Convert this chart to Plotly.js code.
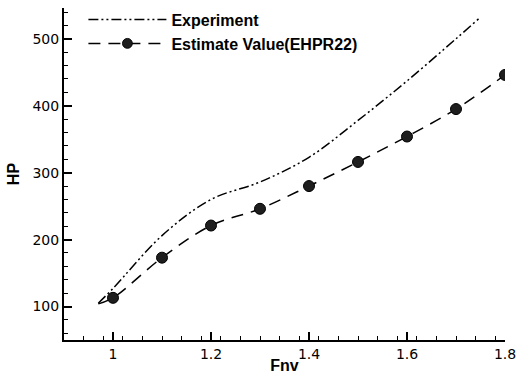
<!DOCTYPE html>
<html>
<head>
<meta charset="utf-8">
<script src="https://cdn.plot.ly/plotly-3.0.1.min.js"></script>
<style>
  html, body { margin: 0; padding: 0; background: #fff; }
  #chart { width: 521px; height: 374px; }
</style>
</head>
<body>
<div id="chart"></div>
<script>
// Experiment curve
const expX = [0.97, 1.0, 1.1, 1.2, 1.3, 1.4, 1.5, 1.6, 1.7, 1.748];
const expY = [105, 127, 206, 260, 286, 323, 378, 437, 500, 531];

// Estimate Value (EHPR22): curve start + marked points
const estX = [0.97, 1.0, 1.1, 1.2, 1.3, 1.4, 1.5, 1.6, 1.7, 1.8];
const estY = [104, 113, 173, 221, 246, 280, 316, 354, 395, 446];
const estMarkerSize = [0, 11, 11, 11, 11, 11, 11, 11, 11, 11];
const estMarkerLine = [0, 1, 1, 1, 1, 1, 1, 1, 1, 1];

const seriesNames = ['Experiment', 'Estimate Value(EHPR22)'];
const xTicks = [1, 1.2, 1.4, 1.6, 1.8];
const yTicks = [100, 200, 300, 400, 500];

const traces = [
  {
    x: expX, y: expY, name: seriesNames[0], type: 'scatter', mode: 'lines',
    line: { color: '#000', width: 1.5, dash: '10px,3px,2px,3px,2px,3px', shape: 'spline' }
  },
  {
    x: estX, y: estY, name: seriesNames[1], type: 'scatter', mode: 'lines+markers',
    line: { color: '#000', width: 1.5, dash: '12px,8px', shape: 'spline' },
    marker: { size: estMarkerSize, color: '#1e1e1e', opacity: 1, line: { color: '#000', width: estMarkerLine } }
  }
];

const tickFont = { family: 'DejaVu Sans, Arial, sans-serif', size: 14, color: '#000' };
const layout = {
  width: 521, height: 374,
  margin: { l: 64, r: 16, t: 8, b: 34, pad: 0, autoexpand: false },
  paper_bgcolor: '#fff', plot_bgcolor: '#fff',
  showlegend: true,
  legend: {
    x: 0.044, y: 1.016, xanchor: 'left', yanchor: 'top',
    bgcolor: 'rgba(0,0,0,0)', itemwidth: 78, tracegroupgap: 0,
    font: { family: 'Liberation Sans, Arial, sans-serif', size: 16, color: '#000', weight: 'bold' }
  },
  xaxis: {
    range: [0.9, 1.8], tickvals: xTicks, ticktext: xTicks.map(String),
    showgrid: false, zeroline: false, showline: true, linecolor: '#000', linewidth: 2,
    ticks: 'inside', ticklen: 8, tickwidth: 2, tickcolor: '#000',
    minor: { dtick: 0.04, tick0: 0.9, ticks: 'inside', ticklen: 4, tickwidth: 1, tickcolor: '#000', showgrid: false },
    tickfont: tickFont,
    title: { text: 'Fnv', standoff: 1, font: { family: 'Liberation Sans, Arial, sans-serif', size: 16, color: '#000', weight: 'bold' } }
  },
  yaxis: {
    range: [50, 546], tickvals: yTicks, ticktext: yTicks.map(String),
    showgrid: false, zeroline: false, showline: true, linecolor: '#000', linewidth: 2,
    ticks: 'inside', ticklen: 8, tickwidth: 2, tickcolor: '#000',
    minor: { dtick: 20, tick0: 0, ticks: 'inside', ticklen: 4, tickwidth: 1, tickcolor: '#000', showgrid: false },
    tickfont: tickFont,
    title: { text: 'HP', standoff: 9, font: { family: 'Liberation Sans, Arial, sans-serif', size: 16, color: '#000', weight: 'bold' } }
  }
};

Plotly.newPlot('chart', traces, layout, { displayModeBar: false, staticPlot: true });
</script>
</body>
</html>
